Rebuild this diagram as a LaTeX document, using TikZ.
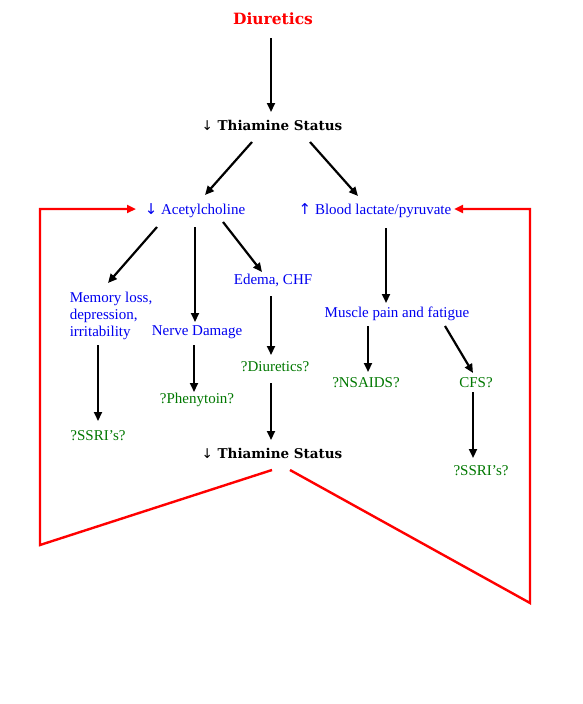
\documentclass[tikz,border=0pt]{standalone}
\usepackage{fontspec}
\setmainfont{Liberation Serif}
\newfontfamily\headfont{DejaVu Serif}
\newfontfamily\symfont{DejaVu Sans}
\usetikzlibrary{arrows.meta, positioning}
\definecolor{txtblue}{RGB}{0,0,240}
\definecolor{txtgreen}{RGB}{0,120,0}
\tikzstyle{effect}  = [text=txtblue, font=\fontsize{15}{17}\selectfont, inner sep=1pt]
\tikzstyle{drug}    = [text=txtgreen, font=\fontsize{15}{17}\selectfont, inner sep=1pt]
\tikzstyle{status}  = [font=\headfont\bfseries\fontsize{13.5}{15}\selectfont, inner sep=1pt]
\tikzstyle{arrow}   = [line width=2.2pt, -{Triangle[length=9pt,width=8pt]}]
\tikzstyle{feedback}= [line width=2.4pt, red, -{Triangle[length=9pt,width=8pt]}]

\begin{document}
\begin{tikzpicture}[x=1pt, y=-1pt]
  \useasboundingbox[fill=white] (0,0) rectangle (582,704);

  % --- top ---
  \node (diur) [status, text=red, font=\headfont\bfseries\fontsize{15.5}{17}\selectfont]
               at (273,19) {Diuretics};
  \node (thia1) [status] at (272,125) {{\symfont\mdseries\char"2193}\ Thiamine Status};

  % --- second row ---
  \node (ach)  [effect] at (195,211) {{\symfont\char"2193} Acetylcholine};
  \node (lact) [effect] at (375,211) {{\symfont\char"2191} Blood lactate/pyruvate};

  % --- effects of low acetylcholine ---
  \node (mem)   [effect, align=left] at (111,316) {Memory loss,\\depression,\\irritability};
  \node (nerve) [effect] at (197,332) {Nerve Damage};
  \node (edema) [effect] at (273,280) {Edema, CHF};
  \node (muscle)[effect] at (397,314) {Muscle pain and fatigue};

  % --- drugs ---
  \node (ssri1) [drug] at (98,436)  {?SSRI’s?};
  \node (phen)  [drug] at (197,400) {?Phenytoin?};
  \node (diur2) [drug] at (275,367) {?Diuretics?};
  \node (nsaid) [drug] at (366,383) {?NSAIDS?};
  \node (cfs)   [drug] at (476,383) {CFS?};
  \node (ssri2) [drug] at (481,471) {?SSRI’s?};

  \node (thia2) [status] at (272,453) {{\symfont\mdseries\char"2193}\ Thiamine Status};

  % --- corners of the feedback loops ---
  \coordinate (lbot) at (40,545);
  \coordinate (ltop) at (40,209);
  \coordinate (lend) at (136,209);
  \coordinate (rbot) at (530,603);
  \coordinate (rtop) at (530,209);
  \coordinate (rend) at (454,209);

  % Arrows
  \draw[arrow] (271,38) -- (271,112);
  \draw[arrow] (252,142) -- (205,195);
  \draw[arrow] (310,142) -- (358,196);
  \draw[arrow] (157,227) -- (108,283);
  \draw[arrow] (195,227) -- (195,322);
  \draw[arrow] (223,222) -- (262,272);
  \draw[arrow] (271,296) -- (271,355);
  \draw[arrow] (271,383) -- (271,440);
  \draw[arrow] (98,345) -- (98,421);
  \draw[arrow] (194,345) -- (194,392);
  \draw[arrow] (386,228) -- (386,303);
  \draw[arrow] (368,326) -- (368,372);
  \draw[arrow] (445,326) -- (473,373);
  \draw[arrow] (473,392) -- (473,458);

  % Feedback
  \draw[feedback] (272,470) -- (lbot) -- (ltop) -- (lend);
  \draw[feedback] (290,470) -- (rbot) -- (rtop) -- (rend);

\end{tikzpicture}
\end{document}
